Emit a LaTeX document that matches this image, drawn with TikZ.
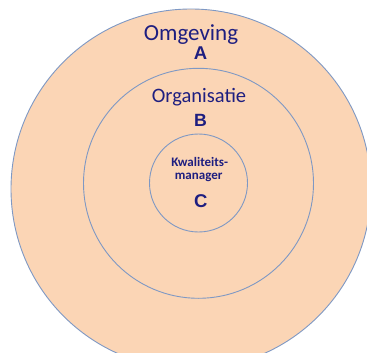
\documentclass[tikz,border=0pt]{standalone}
\usepackage{fontspec}
\setmainfont{Carlito}
\newfontfamily\arialfont{Liberation Sans}
\definecolor{peach}{HTML}{FBD5B5}
\definecolor{ringline}{HTML}{7E98C4}
\definecolor{navy}{HTML}{1E1E80}
\begin{document}
\begin{tikzpicture}[x=1pt,y=-1pt,
  ring/.style={draw=ringline,fill=peach,line width=0.9pt},
  lbl/.style={text=navy,inner sep=0pt,anchor=base},
  letter/.style={text=navy,inner sep=0pt,anchor=base,font=\arialfont\bfseries\fontsize{18.5}{20}\selectfont}]
\useasboundingbox (0,0) rectangle (367,353);
\clip (0,0) rectangle (367,353);
\fill[white] (0,0) rectangle (367,353);
\node[ring,circle,minimum size=360pt,inner sep=0pt] (outer) at (191,189) {};
\node[ring,circle,minimum size=230pt,inner sep=0pt] (middle) at (198.5,183.3) {};
\node[ring,circle,minimum size=98pt,inner sep=0pt] (inner) at (198.5,183) {};
\node[lbl,font=\fontsize{23}{26}\selectfont] (omg) at (191,40.5) {Omgeving};
\node[letter] (la) at (200.5,60) {A};
\node[lbl,font=\fontsize{20.5}{23}\selectfont] (org) at (199,102.7) {Organisatie};
\node[letter,font=\arialfont\bfseries\fontsize{17.7}{20}\selectfont] (lb) at (200.5,126) {B};
\node[lbl,font=\bfseries\fontsize{13}{15}\selectfont] (kw) at (199.7,166.7) {Kwaliteits-};
\node[lbl,font=\bfseries\fontsize{13}{15}\selectfont] (mg) at (198.7,179.3) {manager};
\node[letter] (lc) at (200.8,207) {C};
\end{tikzpicture}
\end{document}
